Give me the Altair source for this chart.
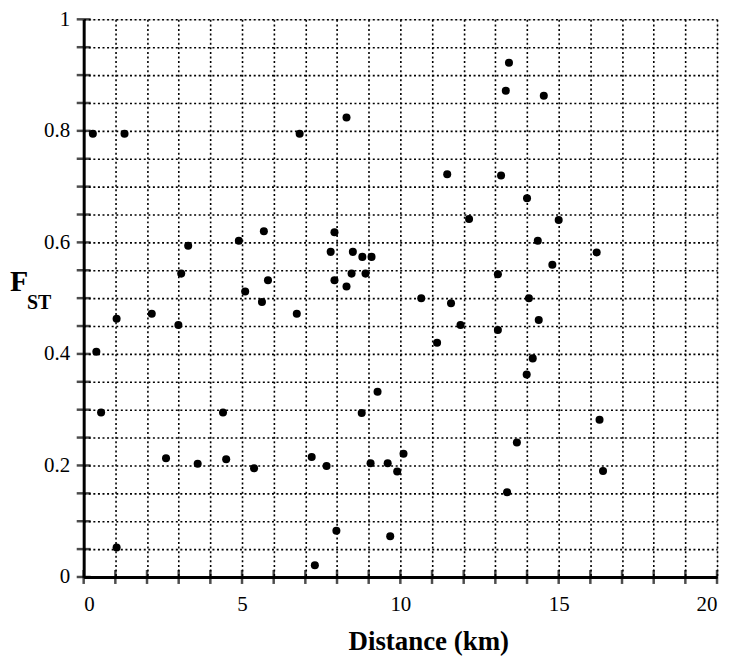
import altair as alt
import pandas as pd

distance_km = [0.29, 1.29, 0.4, 1.04, 0.55, 1.04, 2.15, 3.3, 3.08, 2.99, 4.9, 5.1, 4.4, 2.6, 3.6, 4.5,
               8.3, 6.82, 11.48, 12.17, 5.69, 7.92,
               13.43, 13.33, 14.53, 13.18, 14.0, 15.0,
               7.8, 8.5, 8.8, 9.09, 5.82, 7.92, 8.46, 8.9, 8.3, 5.63, 6.73, 10.66, 11.6, 11.9, 11.16, 9.28, 8.78,
               14.34, 16.2, 14.8, 13.08, 14.06, 14.37, 13.08, 14.18, 13.99, 16.29,
               7.2, 7.67, 5.38, 9.06, 9.6, 9.9, 10.1, 7.98, 9.68, 7.3,
               13.68, 16.4, 13.37]
fst = [0.795, 0.795, 0.404, 0.463, 0.295, 0.053, 0.472, 0.594, 0.544, 0.452, 0.603, 0.512, 0.295, 0.213, 0.203, 0.211,
       0.824, 0.795, 0.722, 0.642, 0.62, 0.618,
       0.922, 0.872, 0.863, 0.72, 0.679, 0.64,
       0.583, 0.583, 0.574, 0.574, 0.532, 0.532, 0.544, 0.544, 0.521, 0.493, 0.472, 0.5, 0.491, 0.452, 0.42, 0.332, 0.294,
       0.603, 0.582, 0.56, 0.543, 0.5, 0.461, 0.443, 0.392, 0.363, 0.282,
       0.215, 0.199, 0.195, 0.204, 0.204, 0.189, 0.221, 0.083, 0.073, 0.021,
       0.241, 0.19, 0.152]

x_ticks = list(range(0, 21))
y_ticks = [round(i * 0.05, 2) for i in range(0, 21)]

df = pd.DataFrame({"d": distance_km, "f": fst})
xt = pd.DataFrame({"d": x_ticks, "f": [0] * len(x_ticks)})
yt = pd.DataFrame({"d": [0] * len(y_ticks), "f": y_ticks})

FONT = "Liberation Serif"
xscale = alt.Scale(domain=[0, 20], nice=False, zero=False)
yscale = alt.Scale(domain=[0, 1], nice=False, zero=False)

xaxis = alt.Axis(values=x_ticks, title="Distance (km)", grid=True, gridColor="black",
                 gridDash=[2, 2.6], gridWidth=1.6, gridOpacity=1, ticks=False,
                 domainColor="black", domainWidth=3, labelOverlap=False,
                 labelExpr="datum.value % 5 == 0 ? datum.label : ''",
                 labelFont=FONT, labelFontSize=21, labelColor="black", labelPadding=17,
                 titleFont=FONT, titleFontSize=27, titleFontWeight="bold", titleColor="black",
                 titlePadding=14, titleX=346)
yaxis = alt.Axis(values=y_ticks, title=None, grid=True, gridColor="black",
                 gridDash=[2, 2.6], gridWidth=1.6, gridOpacity=1, ticks=False,
                 domainColor="black", domainWidth=3, labelOverlap=False,
                 labelExpr="abs(datum.value*5 - round(datum.value*5)) < 0.001 ? format(datum.value, '.1~f') : ''",
                 labelFont=FONT, labelFontSize=21, labelColor="black", labelPadding=14)

X = alt.X("d:Q", scale=xscale, axis=xaxis)
Y = alt.Y("f:Q", scale=yscale, axis=yaxis)

points = alt.Chart(df).mark_circle(color="black", size=65, opacity=1).encode(x=X, y=Y)

ytick_marks = alt.Chart(yt).mark_tick(color="black", orient="horizontal", size=14, thickness=2.5).encode(x=X, y=Y)
xtick_marks = alt.Chart(xt).mark_tick(color="black", orient="vertical", size=14, thickness=2.5).encode(x=X, y=Y)

title_f = alt.Chart(pd.DataFrame({"t": ["F"]})).mark_text(
    font=FONT, fontSize=30, fontWeight="bold", color="black", align="left", baseline="alphabetic"
).encode(text="t:N", x=alt.value(-74), y=alt.value(273))
title_st = alt.Chart(pd.DataFrame({"t": ["ST"]})).mark_text(
    font=FONT, fontSize=20, fontWeight="bold", color="black", align="left", baseline="alphabetic"
).encode(text="t:N", x=alt.value(-57), y=alt.value(291))

chart = alt.layer(points, ytick_marks, xtick_marks, title_f, title_st).properties(
    width=636, height=560,
    autosize=alt.AutoSizeParams(type="none"),
    padding={"left": 76, "top": 10, "right": 6, "bottom": 84},
).configure_view(stroke="black", strokeWidth=2.5, strokeOpacity=1).configure(background="white")

chart.save("out.html", embed_options={"renderer": "svg", "actions": False})
